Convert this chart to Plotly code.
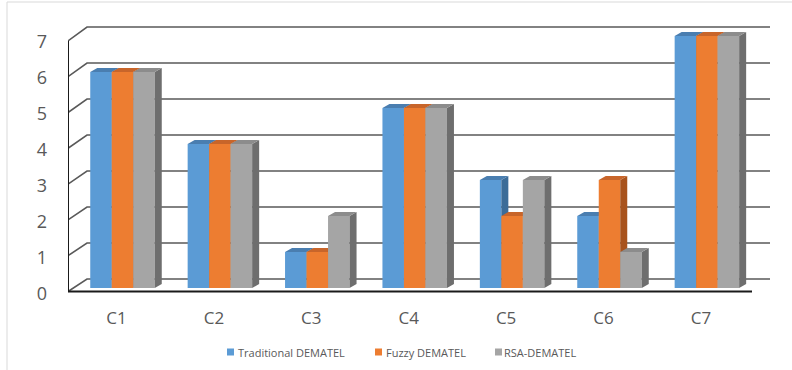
import plotly.graph_objects as go

# ---------------- data ----------------
categories = ["C1", "C2", "C3", "C4", "C5", "C6", "C7"]
series_names = ["Traditional DEMATEL", "Fuzzy DEMATEL", "RSA-DEMATEL"]
traditional = [6, 4, 1, 5, 3, 2, 7]
fuzzy = [6, 4, 1, 5, 2, 3, 7]
rsa = [6, 4, 2, 5, 3, 1, 7]
y_ticks = [0, 1, 2, 3, 4, 5, 6, 7]
y_tick_labels = ["0", "1", "2", "3", "4", "5", "6", "7"]

series_values = [traditional, fuzzy, rsa]

# ---------------- styles / geometry ----------------
front_colors = ["#5B9BD5", "#ED7D31", "#A5A5A5"]
side_colors = ["#3C6C98", "#A8531D", "#6E6E6E"]
top_colors = ["#4A7EB0", "#C8652A", "#8C8C8C"]
TEXT = "#595959"
FONT = "Open Sans"

W, H = 792, 370
PL, PR, PT, PB = 68, 772, 20, 300        # plot area in pixels
CAT0_PX, CAT_STEP = 122.5, 97.4            # bar-group centres (px)
Y0_PX, Y_UNIT = 288.0, 36.0                # bar plane: value 0 pixel, px per unit
BAR_W_PX = 21.5
DEPTH_DX_PX, DEPTH_DY_PX = 7.0, 4.0        # bar depth
BACK_DY_PX = 9.0                           # back wall raised vs bar plane
BACK_LEFT_PX, BACK_RIGHT_PX = 87.0, 770.0
FRONT_LEFT_PX, FRONT_RIGHT_PX = 68.0, 752.0
FRONT_Y0_PX, FRONT_UNIT = 291.5, 35.8
LABEL_SHIFT_PX = 6


def dx(px):
    return px / CAT_STEP


def xd(px):
    return (px - CAT0_PX) / CAT_STEP


def yd(py):
    return (Y0_PX - py) / Y_UNIT


x_range = [xd(PL), xd(PR)]
y_range = [yd(PB), yd(PT)]

bw = dx(BAR_W_PX)
ddx = dx(DEPTH_DX_PX)
ddy = DEPTH_DY_PX / Y_UNIT

fig = go.Figure()

# back-wall gridlines and front-axis diagonals (drawn first, beneath the bars)
for v in y_ticks:
    yb = v + BACK_DY_PX / Y_UNIT
    yf = yd(FRONT_Y0_PX - FRONT_UNIT * v)
    fig.add_trace(go.Scatter(
        x=[xd(FRONT_LEFT_PX), xd(BACK_LEFT_PX), xd(BACK_RIGHT_PX)],
        y=[yf, yb, yb], mode="lines",
        line=dict(color="#595959", width=1.6),
        hoverinfo="skip", showlegend=False))

# front axis lines
fig.add_trace(go.Scatter(
    x=[xd(FRONT_LEFT_PX), xd(FRONT_LEFT_PX), xd(FRONT_RIGHT_PX)],
    y=[yd(FRONT_Y0_PX - FRONT_UNIT * y_ticks[-1]), yd(FRONT_Y0_PX), yd(FRONT_Y0_PX)],
    mode="lines", line=dict(color="#1a1a1a", width=2),
    hoverinfo="skip", showlegend=False))

# 3D bars
n = len(series_values)
for j, vals in enumerate(series_values):
    fx, fy, sx, sy, tx, ty = [], [], [], [], [], []
    for i, v in enumerate(vals):
        xl = i - n * bw / 2 + j * bw
        xr = xl + bw
        fx += [xl, xr, xr, xl, xl, None]
        fy += [0, 0, v, v, 0, None]
        sx += [xr, xr + ddx, xr + ddx, xr, xr, None]
        sy += [0, ddy, v + ddy, v, 0, None]
        tx += [xl, xr, xr + ddx, xl + ddx, xl, None]
        ty += [v, v, v + ddy, v + ddy, v, None]
    for xs, ys, col, name in ((fx, fy, front_colors[j], series_names[j]),
                              (sx, sy, side_colors[j], None),
                              (tx, ty, top_colors[j], None)):
        fig.add_trace(go.Scatter(
            x=xs, y=ys, mode="lines", fill="toself", fillcolor=col,
            line=dict(width=0, color=col), name=name or "",
            hoverinfo="skip", showlegend=False))

# custom legend
legend_items_px = [(227, 237), (375, 385), (495, 503)]
LEG_Y = 352


def xp(px):
    return (px - PL) / (PR - PL)


def yp(py):
    return (PB - py) / (PB - PT)


shapes = []
annotations = []
for (sq, tx0), name, col in zip(legend_items_px, series_names, front_colors):
    shapes.append(dict(type="rect", xref="paper", yref="paper",
                       x0=xp(sq), x1=xp(sq + 7), y0=yp(LEG_Y + 3.5), y1=yp(LEG_Y - 3.5),
                       fillcolor=col, line=dict(width=0)))
    annotations.append(dict(xref="paper", yref="paper", x=xp(tx0 - 1), y=yp(LEG_Y),
                            xanchor="left", yanchor="middle", showarrow=False,
                            text=name, font=dict(family=FONT, size=11, color=TEXT)))

# outer chart border
shapes.append(dict(type="rect", xref="paper", yref="paper",
                   x0=xp(7), x1=xp(W + 20), y0=yp(H + 20), y1=yp(2),
                   line=dict(color="#D9D9D9", width=1), fillcolor="rgba(0,0,0,0)",
                   layer="below"))

fig.update_layout(
    width=W, height=H,
    margin=dict(l=PL, r=W - PR, t=PT, b=H - PB, pad=0),
    paper_bgcolor="white", plot_bgcolor="white",
    showlegend=False,
    shapes=shapes, annotations=annotations,
    xaxis=dict(range=x_range, showgrid=False, zeroline=False, showline=False,
               tickmode="array",
               tickvals=[i - dx(LABEL_SHIFT_PX) for i in range(len(categories))],
               ticktext=categories, ticks="", ticklabelstandoff=6,
               tickfont=dict(family=FONT, size=17, color=TEXT), fixedrange=True),
    yaxis=dict(range=y_range, showgrid=False, zeroline=False, showline=False,
               tickmode="array", tickvals=y_ticks, ticktext=y_tick_labels,
               ticks="", ticklabelstandoff=20, ticklabelshift=LABEL_SHIFT_PX,
               tickfont=dict(family=FONT, size=18, color=TEXT), fixedrange=True),
)

fig.write_html("out.html")
